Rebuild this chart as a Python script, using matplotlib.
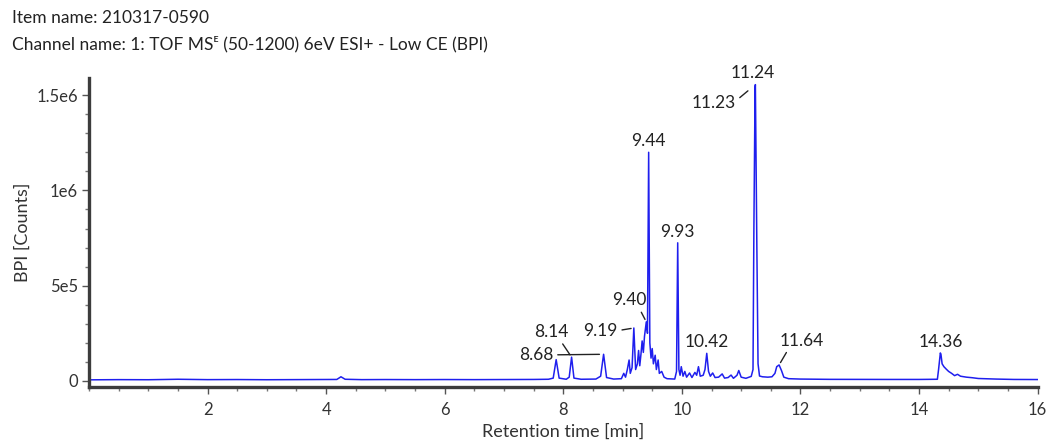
import matplotlib
matplotlib.use("Agg")
import matplotlib.pyplot as plt
from matplotlib.ticker import MultipleLocator, FixedLocator, FixedFormatter

plt.rcParams['font.family'] = ['Lato', 'DejaVu Sans']

item_name = "210317-0590"
channel_name = "1: TOF MS\u1d31 (50-1200) 6eV ESI+ - Low CE (BPI)"

# Base peak intensity trace: retention time [min] and BPI [counts]
rt = [0.02, 0.5, 1.0, 1.5, 2.0, 2.5, 3.0, 3.5, 4.0, 4.18, 4.25, 4.32, 4.6, 5.0,
      5.5, 6.0, 6.5, 7.0, 7.5, 7.75, 7.83, 7.88, 7.93, 8.05, 8.10, 8.14, 8.18,
      8.3, 8.55, 8.63, 8.68, 8.73, 8.85, 8.98, 9.02, 9.05, 9.08, 9.11, 9.13,
      9.16, 9.19, 9.22, 9.25, 9.27, 9.29, 9.31, 9.33, 9.35, 9.37, 9.40, 9.42,
      9.44, 9.46, 9.48, 9.50, 9.52, 9.55, 9.57, 9.60, 9.62, 9.66, 9.70, 9.75,
      9.88, 9.91, 9.93, 9.95, 9.97, 9.99, 10.02, 10.05, 10.08, 10.13, 10.17,
      10.22, 10.25, 10.28, 10.31, 10.36, 10.39, 10.42, 10.45, 10.48, 10.52,
      10.56, 10.62, 10.68, 10.72, 10.78, 10.83, 10.87, 10.93, 10.96, 11.00,
      11.08, 11.17, 11.20, 11.215, 11.235, 11.24, 11.265, 11.285, 11.31,
      11.36, 11.45, 11.52, 11.57, 11.60, 11.64, 11.68, 11.72, 11.80, 12.0,
      12.5, 13.0, 13.5, 14.0, 14.31, 14.33, 14.36, 14.37, 14.39, 14.42, 14.46,
      14.50, 14.55, 14.60, 14.65, 14.70, 14.80, 14.90, 15.0, 15.3, 15.6, 16.0]
bpi = [6000, 7000, 6500, 9000, 7000, 7500, 6500, 7000, 7500, 8000, 22000, 9000,
       7000, 7500, 7000, 7500, 7000, 7500, 8000, 9000, 15000, 112000, 15000,
       9000, 20000, 125000, 15000, 9000, 10000, 25000, 140000, 18000, 10000,
       12000, 40000, 20000, 60000, 110000, 40000, 70000, 278000, 60000, 90000,
       160000, 80000, 140000, 210000, 150000, 235000, 310000, 250000, 1200000,
       200000, 120000, 170000, 90000, 135000, 60000, 110000, 40000, 50000,
       20000, 12000, 10000, 50000, 725000, 60000, 30000, 75000, 25000, 50000,
       20000, 42000, 18000, 45000, 30000, 75000, 25000, 30000, 60000, 145000,
       50000, 25000, 42000, 18000, 20000, 37000, 15000, 18000, 31000, 14000,
       30000, 55000, 20000, 14000, 24000, 60000, 800000, 1540000, 1555000,
       700000, 90000, 26000, 22000, 20000, 22000, 40000, 75000, 84000, 55000,
       20000, 12000, 10000, 8500, 8000, 8000, 8000, 9000, 60000, 147000,
       140000, 90000, 75000, 62000, 50000, 40000, 28000, 35000, 25000, 20000,
       17000, 13000, 10000, 8000, 7500]

# Labelled peaks: retention time shown, apex of the mark it names
peak_labels = ["8.68", "8.14", "9.19", "9.40", "9.44", "9.93", "10.42",
               "11.23", "11.24", "11.64", "14.36"]
peak_rt = [8.68, 8.14, 9.19, 9.40, 9.44, 9.93, 10.42, 11.24, 11.24, 11.64, 14.36]
peak_bpi = [140000, 125000, 278000, 310000, 1200000, 725000, 145000,
            1555000, 1555000, 84000, 147000]

y_ticks = [0, 500000, 1000000, 1500000]
y_tick_labels = ["0", "5e5", "1e6", "1.5e6"]
x_ticks = [2, 4, 6, 8, 10, 12, 14, 16]

fig = plt.figure(figsize=(10.47, 4.48), dpi=100)
ax = fig.add_axes([0.085, 0.136, 0.906, 0.69])

line_col = "#1f1fee"
ax.plot(rt, bpi, color=line_col, lw=1.1, solid_joinstyle="round")

ax.set_xlim(0, 16)
ax.set_ylim(-32000, 1590000)

spine_col = "#3c3c3c"
for s in ("top", "right"):
    ax.spines[s].set_visible(False)
for s in ("left", "bottom"):
    ax.spines[s].set_linewidth(2.4)
    ax.spines[s].set_color(spine_col)

ax.xaxis.set_major_locator(FixedLocator(x_ticks))
ax.xaxis.set_minor_locator(MultipleLocator(0.5))
ax.yaxis.set_major_locator(FixedLocator(y_ticks))
ax.yaxis.set_major_formatter(FixedFormatter(y_tick_labels))
ax.yaxis.set_minor_locator(MultipleLocator(100000))
ax.tick_params(which="major", length=5, width=1, color="#555555",
               labelsize=12, labelcolor="#333333", pad=3)
ax.tick_params(which="minor", length=3, width=1, color="#777777")
ax.tick_params(axis="x", pad=6)

ax.set_xlabel("Retention time [min]", fontsize=13, color="#333333", labelpad=4)
ax.set_ylabel("BPI [Counts]", fontsize=13, color="#333333", labelpad=4)

# Label placement relative to the apex (points): dx, dy (baseline), ha,
# and leader-line settings (shrinkB, relpos) where a leader is drawn
label_style = {
    "8.68": (-36, -4, "right", (3, (1.0, 0.5))),
    "8.14": (-14.5, 14.5, "center", (2, (0.75, 0.0))),
    "9.19": (-11.5, -5.5, "right", (2, (1.0, 0.5))),
    "9.40": (-12.5, 12, "center", (2, (0.8, 0.0))),
    "9.44": (0, 4.5, "center", None),
    "9.93": (0, 4.5, "center", None),
    "10.42": (0, 4.5, "center", None),
    "11.23": (-14, -17, "right", (7, (1.0, 0.65))),
    "11.24": (-2, 4.5, "center", None),
    "11.64": (16.5, 14, "center", (2, (0.2, 0.0))),
    "14.36": (0.5, 4.5, "center", None),
}
for lab, t, v in zip(peak_labels, peak_rt, peak_bpi):
    dx, dy, ha, lead = label_style[lab]
    kw = dict(xy=(t, v), xytext=(dx, dy), textcoords="offset points",
              ha=ha, va="baseline", fontsize=12.5, color="#222222")
    if lead is not None:
        shrink_b, relpos = lead
        kw["arrowprops"] = dict(arrowstyle="-", color="#222222", lw=1.0,
                                shrinkA=1, shrinkB=shrink_b, relpos=relpos)
    ax.annotate(lab, **kw)

fig.text(0.011, 0.96, "Item name: " + item_name, fontsize=12.5,
         color="#222222", va="center", ha="left")
fig.text(0.011, 0.902, "Channel name: " + channel_name, fontsize=12.5,
         color="#222222", va="center", ha="left")

fig.savefig("out.png", dpi=100)
